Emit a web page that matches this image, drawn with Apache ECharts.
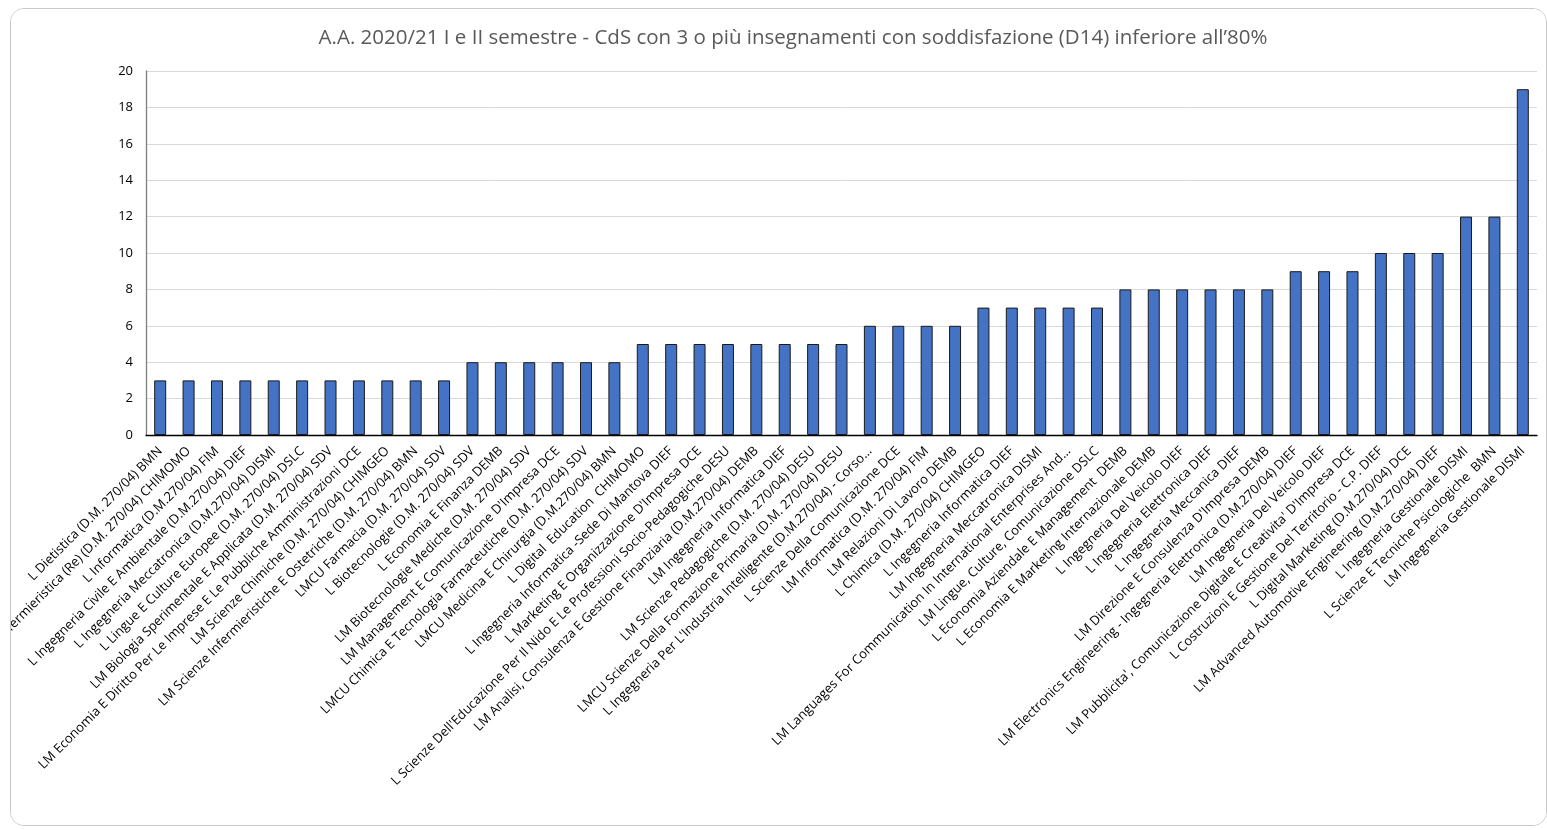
<!DOCTYPE html>
<html>
<head>
<meta charset="utf-8">
<script src="https://cdn.jsdelivr.net/npm/echarts@6/dist/echarts.min.js"></script>
<style>
html,body{margin:0;padding:0;background:#fff;width:1547px;height:830px;overflow:hidden;}
#frame{position:absolute;left:10px;top:8px;width:1535px;height:816px;border:1px solid #c8c8c8;border-radius:14px;overflow:hidden;background:#fff;}
#chart{position:absolute;left:0;top:0;width:1535px;height:816px;}
</style>
</head>
<body>
<div id="frame"><div id="chart"></div></div>
<script>
const titleText = "A.A. 2020/21 I e II semestre - CdS con 3 o più insegnamenti con soddisfazione (D14) inferiore all\u201980%";
const categories = [
  "L Dietistica (D.M. 270/04) BMN",
  "L Infermieristica (Re) (D.M. 270/04) CHIMOMO",
  "L Informatica (D.M.270/04) FIM",
  "L Ingegneria Civile E Ambientale (D.M.270/04) DIEF",
  "L Ingegneria Meccatronica (D.M.270/04) DISMI",
  "L Lingue E Culture Europee (D.M. 270/04) DSLC",
  "LM Biologia Sperimentale E Applicata (D.M. 270/04) SDV",
  "LM Economia E Diritto Per Le Imprese E Le Pubbliche Amministrazioni DCE",
  "LM Scienze Chimiche (D.M. 270/04) CHIMGEO",
  "LM Scienze Infermieristiche E Ostetriche (D.M. 270/04) BMN",
  "LMCU Farmacia (D.M. 270/04) SDV",
  "L Biotecnologie (D.M. 270/04) SDV",
  "L Economia E Finanza DEMB",
  "LM Biotecnologie Mediche (D.M. 270/04) SDV",
  "LM Management E Comunicazione D'Impresa DCE",
  "LMCU Chimica E Tecnologia Farmaceutiche (D.M. 270/04) SDV",
  "LMCU Medicina E Chirurgia (D.M.270/04) BMN",
  "L Digital  Education  CHIMOMO",
  "L Ingegneria Informatica -Sede Di Mantova DIEF",
  "L Marketing E Organizzazione D'Impresa DCE",
  "L Scienze Dell'Educazione Per Il Nido E Le Professioni Socio-Pedagogiche DESU",
  "LM Analisi, Consulenza E Gestione Finanziaria (D.M.270/04) DEMB",
  "LM Ingegneria Informatica DIEF",
  "LM Scienze Pedagogiche (D.M. 270/04) DESU",
  "LMCU Scienze Della Formazione Primaria (D.M. 270/04) DESU",
  "L Ingegneria Per L'Industria Intelligente (D.M.270/04) - Corso...",
  "L Scienze Della Comunicazione DCE",
  "LM Informatica (D.M. 270/04) FIM",
  "LM Relazioni Di Lavoro DEMB",
  "L Chimica (D.M. 270/04) CHIMGEO",
  "L Ingegneria Informatica DIEF",
  "LM Ingegneria Meccatronica DISMI",
  "LM Languages For Communication In International Enterprises And...",
  "LM Lingue, Culture, Comunicazione DSLC",
  "L Economia Aziendale E Management  DEMB",
  "L Economia E Marketing Internazionale DEMB",
  "L Ingegneria Del Veicolo DIEF",
  "L Ingegneria Elettronica DIEF",
  "L Ingegneria Meccanica DIEF",
  "LM Direzione E Consulenza D'Impresa DEMB",
  "LM Electronics Engineering - Ingegneria Elettronica (D.M.270/04) DIEF",
  "LM Ingegneria Del Veicolo DIEF",
  "LM Pubblicita', Comunicazione Digitale E Creativita' D'Impresa DCE",
  "L Costruzioni E Gestione Del Territorio - C.P. DIEF",
  "L Digital Marketing (D.M.270/04) DCE",
  "LM Advanced Automotive Engineering (D.M.270/04) DIEF",
  "L Ingegneria Gestionale DISMI",
  "L Scienze E Tecniche Psicologiche  BMN",
  "LM Ingegneria Gestionale DISMI"
];
const values = [
  3,3,3,3,3,3,3,3,3,3,3,
  4,4,4,4,4,4,
  5,5,5,5,5,5,5,5,
  6,6,6,6,
  7,7,7,7,7,
  8,8,8,8,8,8,
  9,9,9,
  10,10,10,
  12,12,
  19
];
const yTicks = [0,2,4,6,8,10,12,14,16,18,20];

const FONT = "'Open Sans', Lato, sans-serif";
const chart = echarts.init(document.getElementById('chart'), null, {renderer:'canvas'});
chart.setOption({
  animation:false,
  backgroundColor:'#fff',
  title:{
    text:titleText,
    left:777, top:14, textAlign:'center',
    textStyle:{color:'#595959', fontSize:20.5, fontWeight:'normal', fontFamily:FONT}
  },
  grid:{left:135, top:62, width:1391, height:364, containLabel:false, outerBoundsMode:'none'},
  xAxis:{
    type:'category',
    data:categories,
    boundaryGap:true,
    axisLine:{lineStyle:{color:'#000', width:1.3}},
    axisTick:{show:false},
    axisLabel:{interval:0, rotate:45, color:'#000', fontSize:13, fontFamily:FONT, margin:14}
  },
  yAxis:{
    type:'value', min:yTicks[0], max:yTicks[yTicks.length-1], interval:2,
    axisLine:{show:true, lineStyle:{color:'#7f7f7f', width:1.3}},
    axisTick:{show:false},
    axisLabel:{color:'#000', fontSize:13, fontFamily:FONT, margin:13},
    splitLine:{lineStyle:{color:'#d9d9d9', width:1}}
  },
  series:[{
    type:'bar',
    data:values,
    barWidth:12,
    itemStyle:{color:'#4472C4', borderColor:'#1a1a1a', borderWidth:1}
  }]
});
</script>
</body>
</html>
